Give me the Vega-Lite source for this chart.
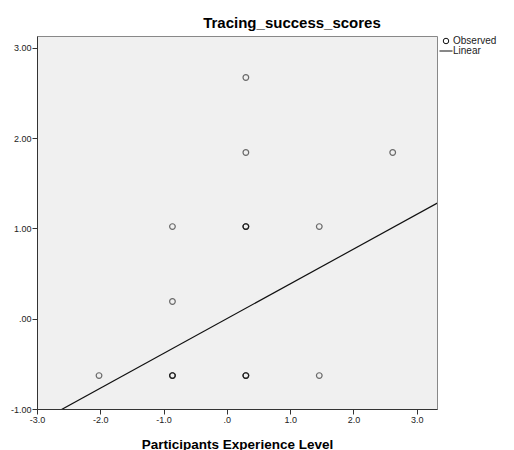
{
  "$schema": "https://vega.github.io/schema/vega-lite/v6.json",
  "autosize": "none",
  "width": 400,
  "height": 373,
  "padding": {"left": 37, "top": 36, "right": 77, "bottom": 41},
  "background": "#ffffff",
  "config": {
    "view": {"fill": "#f0f0f0", "stroke": "#888888", "strokeWidth": 1},
    "font": "Liberation Sans"
  },
  "title": {
    "text": "Tracing_success_scores",
    "font": "Liberation Sans",
    "fontSize": 15,
    "fontWeight": "bold",
    "color": "#000000",
    "anchor": "middle",
    "dx": 55,
    "offset": 5
  },
  "datasets": {
    "observed": [
      {"x": -2.02, "y": -0.63, "series": "Observed"},
      {"x": -0.86, "y": -0.63, "series": "Observed"},
      {"x": -0.86, "y": -0.63, "series": "Observed"},
      {"x": -0.86, "y": -0.63, "series": "Observed"},
      {"x": -0.86, "y": 0.19, "series": "Observed"},
      {"x": -0.86, "y": 1.02, "series": "Observed"},
      {"x": 0.30, "y": 2.67, "series": "Observed"},
      {"x": 0.30, "y": 1.84, "series": "Observed"},
      {"x": 0.30, "y": 1.02, "series": "Observed"},
      {"x": 0.30, "y": 1.02, "series": "Observed"},
      {"x": 0.30, "y": 1.02, "series": "Observed"},
      {"x": 0.30, "y": -0.63, "series": "Observed"},
      {"x": 0.30, "y": -0.63, "series": "Observed"},
      {"x": 0.30, "y": -0.63, "series": "Observed"},
      {"x": 1.46, "y": 1.02, "series": "Observed"},
      {"x": 1.46, "y": -0.63, "series": "Observed"},
      {"x": 2.62, "y": 1.84, "series": "Observed"}
    ],
    "linear": [
      {"x": -3.0, "y": -1.155, "series": "Linear"},
      {"x": 3.4, "y": 1.309, "series": "Linear"}
    ]
  },
  "encoding": {
    "x": {
      "field": "x",
      "type": "quantitative",
      "scale": {"domain": [-3, 3.32], "nice": false, "zero": false},
      "axis": {
        "title": "Participants Experience Level",
        "titleFont": "Liberation Sans",
        "titleFontSize": 13.5,
        "titleFontWeight": "bold",
        "titleColor": "#000000",
        "titlePadding": 13,
        "values": [-3, -2, -1, 0, 1, 2, 3],
        "labelExpr": "datum.value == 0 ? '.0' : (datum.value < 0 ? '-' + format(-datum.value, '.1f') : format(datum.value, '.1f'))",
        "labelFont": "Liberation Sans",
        "labelFontSize": 9,
        "labelColor": "#222222",
        "labelPadding": 1,
        "labelFlush": false,
        "tickSize": 5,
        "tickColor": "#333333",
        "domainColor": "#333333",
        "grid": false
      }
    },
    "y": {
      "field": "y",
      "type": "quantitative",
      "scale": {"domain": [-1, 3.13], "nice": false, "zero": false},
      "axis": {
        "title": null,
        "values": [-1, 0, 1, 2, 3],
        "labelExpr": "datum.value == 0 ? '.00' : (datum.value < 0 ? '-' + format(-datum.value, '.2f') : format(datum.value, '.2f'))",
        "labelFont": "Liberation Sans",
        "labelFontSize": 9,
        "labelColor": "#222222",
        "labelPadding": 1,
        "labelFlush": false,
        "tickSize": 5,
        "tickColor": "#333333",
        "domainColor": "#333333",
        "grid": false
      }
    },
    "color": {
      "field": "series",
      "type": "nominal",
      "scale": {"domain": ["Observed", "Linear"], "range": ["#111111", "#111111"]},
      "legend": {
        "title": null,
        "orient": "right",
        "offset": 4,
        "padding": 0,
        "labelFont": "Liberation Sans",
        "labelFontSize": 10,
        "labelColor": "#222222",
        "labelOffset": 2,
        "rowPadding": -1,
        "symbolStrokeWidth": 1,
        "encode": {
          "symbols": {
            "update": {
              "shape": {"signal": "datum.value === 'Linear' ? 'stroke' : 'circle'"},
              "size": {"signal": "datum.value === 'Linear' ? 170 : 30"},
              "fill": {"value": "transparent"},
              "stroke": {"value": "#111111"},
              "opacity": {"value": 1}
            }
          }
        }
      }
    }
  },
  "layer": [
    {
      "data": {"name": "observed"},
      "mark": {"type": "point", "filled": false, "size": 32, "strokeWidth": 1.2, "opacity": 0.6}
    },
    {
      "data": {"name": "linear"},
      "mark": {"type": "line", "strokeWidth": 1.2, "clip": true}
    }
  ]
}
